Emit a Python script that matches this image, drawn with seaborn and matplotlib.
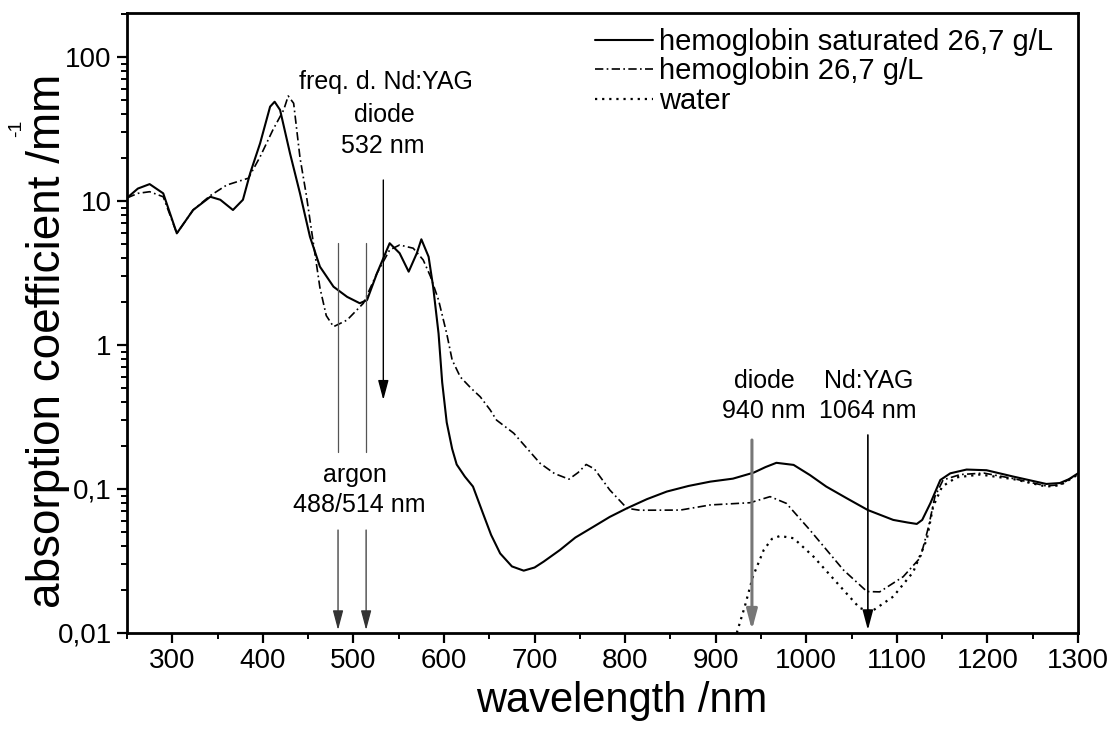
import matplotlib
matplotlib.use("Agg")
import matplotlib.pyplot as plt
import matplotlib.ticker as mticker
import seaborn as sns
import numpy as np

# ---------------- data ----------------
sat_wl = [250, 262, 275, 290, 305, 323, 342, 353, 367, 378, 386, 397, 408, 413, 419,
          430, 441, 452, 463, 478, 493, 507, 515, 526, 540, 551, 561, 570, 575, 583,
          588, 594, 598, 603, 609, 614, 623, 632, 643, 652, 662, 675, 688, 700, 710,
          728, 745, 765, 783, 802, 824, 846, 870, 894, 919, 942, 955, 967, 986, 1004,
          1022, 1045, 1068, 1096, 1112, 1122, 1128, 1137, 1148, 1159, 1177, 1199, 1229,
          1265, 1280, 1290, 1300]
sat_mu = [10.5, 12.2, 13.1, 11.3, 5.96, 8.66, 10.7, 10.2, 8.66, 10.2, 15.6, 25.2, 45.2, 48.9, 42.9,
          21.4, 11.3, 5.65, 3.5, 2.54, 2.16, 1.95, 2.05, 3.15, 5.09, 4.34, 3.23, 4.34, 5.42, 4.1,
          2.54, 1.2, 0.55, 0.29, 0.19, 0.148, 0.122, 0.104, 0.0678, 0.048, 0.0357, 0.029, 0.0271, 0.0285, 0.0313,
          0.0377, 0.046, 0.0547, 0.064, 0.0735, 0.085, 0.096, 0.105, 0.1125, 0.118, 0.130, 0.142, 0.152, 0.147, 0.125,
          0.104, 0.086, 0.0714, 0.061, 0.0585, 0.0572, 0.061, 0.0796, 0.1155, 0.1285, 0.1365, 0.135, 0.1218,
          0.1084, 0.110, 0.117, 0.1285]

hb_wl = [250, 262, 275, 290, 305, 323, 342, 360, 384, 397, 411, 423, 428, 434, 441,
         448, 455, 463, 470, 478, 493, 511, 526, 540, 551, 566, 577, 585, 594, 603,
         609, 618, 630, 640, 651, 658, 677, 706, 722, 738, 748, 757, 766, 783, 802,
         816, 861, 894, 938, 960, 978, 1004, 1041, 1067, 1081, 1107, 1126, 1135, 1142,
         1151, 1170, 1196, 1229, 1265, 1280, 1300]
hb_mu = [10.5, 11.3, 11.6, 10.7, 5.96, 8.66, 10.9, 12.9, 14.4, 20.3, 31.1, 42.9, 53.6, 47.7, 20.0,
         11.0, 5.5, 2.5, 1.6, 1.34, 1.49, 1.95, 3.15, 4.57, 4.95, 4.7, 3.9, 3.0, 2.05, 1.2,
         0.787, 0.6, 0.5, 0.437, 0.354, 0.301, 0.244, 0.151, 0.128, 0.117, 0.13, 0.148, 0.138, 0.0985, 0.0735,
         0.0712, 0.0714, 0.0775, 0.0803, 0.0885, 0.0795, 0.0519, 0.0274, 0.0194, 0.0193, 0.0246, 0.0334, 0.0547, 0.0885,
         0.1155, 0.126, 0.129, 0.118, 0.105, 0.107, 0.127]

water_wl = [921, 932, 941, 953, 962, 971, 986, 1008, 1041, 1059, 1072, 1096, 1118, 1133,
            1140, 1150, 1166, 1192, 1229, 1265, 1280, 1300]
water_mu = [0.009, 0.0152, 0.0246, 0.0377, 0.045, 0.0472, 0.0455, 0.0339, 0.0199, 0.0149, 0.0141,
            0.0179, 0.0265, 0.0445, 0.0754, 0.104, 0.1205, 0.126, 0.117, 0.104, 0.106, 0.126]

series_labels = ["hemoglobin saturated 26,7 g/L", "hemoglobin 26,7 g/L", "water"]

laser_argon = [483, 514]
laser_532 = 533
laser_940 = 940
laser_1064 = 1068

x_ticks = [300, 400, 500, 600, 700, 800, 900, 1000, 1100, 1200, 1300]
y_ticks = [0.01, 0.1, 1, 10, 100]
y_ticklabels = ["0,01", "0,1", "1", "10", "100"]

# ---------------- style ----------------
sns.set_style("ticks")
plt.rcParams["font.family"] = ["Liberation Sans", "DejaVu Sans"]
plt.rcParams["text.color"] = "black"
plt.rcParams["axes.labelcolor"] = "black"
plt.rcParams["xtick.color"] = "black"
plt.rcParams["ytick.color"] = "black"

W, H = 1119, 731
fig = plt.figure(figsize=(W / 100, H / 100), dpi=100)
L, R, T, B = 127, 1078, 13, 633
ax = fig.add_axes([L / W, 1 - B / H, (R - L) / W, (B - T) / H])

sns.lineplot(x=sat_wl, y=sat_mu, ax=ax, color="black", lw=1.5, estimator=None,
             sort=False, label=series_labels[0])
sns.lineplot(x=hb_wl, y=hb_mu, ax=ax, color="black", lw=1.2, estimator=None,
             sort=False, label=series_labels[1])
sns.lineplot(x=water_wl, y=water_mu, ax=ax, color="black", lw=1.6, estimator=None,
             sort=False, label=series_labels[2])
lines = ax.get_lines()
lines[1].set_linestyle((0, (5, 2, 1, 2)))
lines[2].set_linestyle((0, (1, 2.2)))

ax.set_yscale("log")
ax.set_xlim(250, 1300)
ax.set_ylim(0.01, 10 ** (2 + 44 / 144))

ax.set_xticks(x_ticks)
ax.xaxis.set_minor_locator(mticker.FixedLocator(np.arange(250, 1300, 100)))
ax.set_yticks(y_ticks)
ax.set_yticklabels(y_ticklabels)
ax.yaxis.set_minor_locator(mticker.LogLocator(base=10, subs=np.arange(2, 10)))
ax.yaxis.set_minor_formatter(mticker.NullFormatter())

for s in ax.spines.values():
    s.set_visible(True)
    s.set_linewidth(2.0)
    s.set_color("black")
ax.tick_params(which="major", direction="out", length=7, width=1.6, labelsize=20,
               color="black", labelcolor="black", pad=4)
ax.tick_params(which="minor", direction="out", length=4.5, width=1.4, color="black")
ax.tick_params(top=False, right=False, which="both")

ax.set_xlabel("wavelength /nm", fontsize=30, color="black")
ax.set_ylabel("absorption coefficient /mm", fontsize=33, color="black")
ax.xaxis.set_label_coords((622 - L) / (R - L), (B - 681) / (B - T))
ax.yaxis.set_label_coords((70 - L) / (R - L), (B - 341) / (B - T))
fig.text(17 / W, 1 - 128 / H, "-1", rotation=90, fontsize=14, ha="center", va="center",
         color="black")

ax.grid(False)

leg = ax.legend(loc="upper left", bbox_to_anchor=(595 / W, 1 - 28 / H),
                bbox_transform=fig.transFigure, frameon=False, fontsize=21,
                handlelength=2.0, handletextpad=0.2, labelspacing=0.05,
                borderpad=0, borderaxespad=0)
for t in leg.get_texts():
    t.set_color("black")

xt = ax.get_xaxis_transform()
def fy(py):
    return (B - py) / (B - T)

head = "-|>,head_length=0.6,head_width=0.16"
for wl in laser_argon:
    ax.plot([wl, wl], [fy(243), fy(452)], transform=xt, color="#555555", lw=0.9)
    ax.annotate("", xy=(wl, fy(630)), xycoords=xt, xytext=(wl, fy(530)), textcoords=xt,
                arrowprops=dict(arrowstyle=head, mutation_scale=20, color="#333333",
                                lw=0.9, shrinkA=0, shrinkB=0))
ax.annotate("", xy=(laser_532, fy(400)), xycoords=xt, xytext=(laser_532, fy(180)), textcoords=xt,
            arrowprops=dict(arrowstyle=head, mutation_scale=20, color="black",
                            lw=1.0, shrinkA=0, shrinkB=0))
ax.annotate("", xy=(laser_940, fy(630)), xycoords=xt, xytext=(laser_940, fy(440)), textcoords=xt,
            arrowprops=dict(arrowstyle=head, mutation_scale=20, color="#777777",
                            lw=2.2, shrinkA=0, shrinkB=0))
ax.annotate("", xy=(laser_1064, fy(630)), xycoords=xt, xytext=(laser_1064, fy(435)), textcoords=xt,
            arrowprops=dict(arrowstyle=head, mutation_scale=20, color="black",
                            lw=1.2, shrinkA=0, shrinkB=0))

def px2wl(px):
    return 250 + (px - L) / ((R - L) / 1050)

tk = dict(transform=xt, ha="center", va="baseline", fontsize=18, color="black")
ax.text(px2wl(386), fy(89), "freq. d. Nd:YAG", **tk)
ax.text(px2wl(384), fy(122), "diode", **tk)
ax.text(px2wl(383), fy(153), "532 nm", **tk)
ax.text(px2wl(355), fy(482), "argon", **tk)
ax.text(px2wl(359), fy(512), "488/514 nm", **tk)
ax.text(px2wl(764), fy(388), "diode", **tk)
ax.text(px2wl(764), fy(418), "940 nm", **tk)
ax.text(px2wl(869), fy(388), "Nd:YAG", **tk)
ax.text(px2wl(868), fy(418), "1064 nm", **tk)

fig.savefig("out.png", dpi=100)
